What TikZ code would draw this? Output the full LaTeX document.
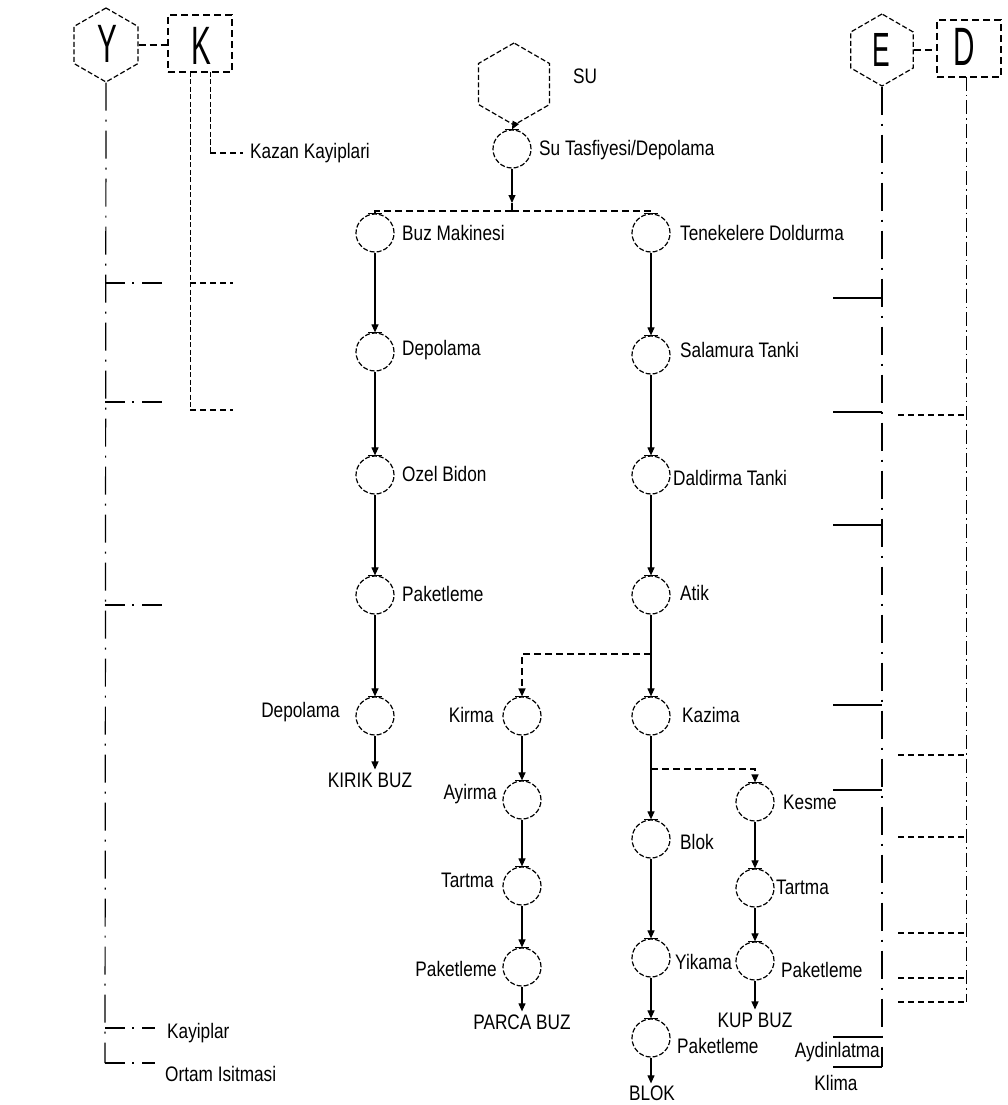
\documentclass[tikz,border=0pt]{standalone}
\usepackage{fontspec}
\setmainfont{Liberation Sans}[FakeStretch=0.82]
\newfontfamily\bigfont{Liberation Sans}[FakeStretch=0.55]
\usetikzlibrary{arrows.meta,shapes.geometric}
\begin{document}
\begin{tikzpicture}[x=1pt,y=-1pt,
  proc/.style={circle,draw,minimum size=38pt,inner sep=0pt,line width=1.2pt,dash pattern=on 5pt off 2pt},
  hexa/.style={regular polygon,regular polygon sides=6,shape border rotate=30,draw,inner sep=0pt,line width=1.2pt,dash pattern=on 5pt off 2.5pt},
  ebox/.style={rectangle,draw,inner sep=0pt,minimum width=64pt,minimum height=57pt,line width=1.2pt,dash pattern=on 7pt off 4pt},
  lbl/.style={font=\fontsize{21}{23}\selectfont,inner sep=0pt},
  bigl/.style={font=\bigfont\fontsize{54}{54}\selectfont,inner sep=0pt},
  flow/.style={line width=1.1pt,-{Triangle[width=7pt,length=8pt]}},
  plain/.style={line width=1.1pt},
  branch/.style={line width=1.3pt,dash pattern=on 7pt off 4pt},
  branchar/.style={branch,-{Triangle[width=7pt,length=8pt]}},
  dashdot/.style={line width=1.2pt,dash pattern=on 28pt off 9pt on 2pt off 9pt},
  legdash/.style={line width=1.2pt,dash pattern=on 20pt off 7pt on 2pt off 8pt on 20pt off 4pt},
  kline/.style={line width=1pt,dash pattern=on 5pt off 2.5pt},
  kdash/.style={line width=1.2pt,dash pattern=on 6pt off 4pt},
  dline/.style={line width=1pt,dash pattern=on 14pt off 4pt on 1.5pt off 4pt},
  eline/.style={line width=1.3pt},
]
\useasboundingbox (0,0) rectangle (1008,1105);

% ---------- left: Y / K ----------
\node[hexa,minimum size=74pt] (yh) at (106,45) {};
\node[bigl] (yl) at (107,44) {Y};
\node[ebox] (kb) at (200,43.5) {};
\node[bigl] (kl) at (201,46) {K};
\draw[branch] (yh.east) -- (yh.east -| kb.west);

\coordinate (ybot) at (105,1063);
\coordinate (ytop) at (105,1028);
\coordinate (yl1) at (155,1063);
\coordinate (yl2) at (155,1028);
\draw[dashdot] (yh.south) -- (ybot);
\draw[legdash] (ytop) -- (yl2);
\draw[legdash] (ybot) -- (yl1);
\node[lbl,anchor=west] (leg1) at (167,1033) {Kayiplar};
\node[lbl,anchor=west] (leg2) at (165,1074) {Ortam Isitmasi};

\foreach \i/\yy in {1/283,2/402,3/605}{
  \coordinate (ya\i) at (105,\yy);
  \coordinate (yb\i) at (163,\yy);
  \draw[legdash] (ya\i) -- (yb\i);
}

\coordinate (k1t) at (190,72);
\coordinate (k1b) at (190,410);
\coordinate (k1e) at (233,410);
\coordinate (k1m) at (190,283);
\coordinate (k1f) at (233,283);
\draw[kline] (k1t) -- (k1b);
\draw[kdash] (k1b) -- (k1e);
\draw[kdash] (k1m) -- (k1f);
\coordinate (k2t) at (210,72);
\coordinate (k2b) at (210,153);
\coordinate (k2e) at (243,153);
\draw[kline] (k2t) -- (k2b);
\draw[kdash] (k2b) -- (k2e);
\node[lbl,anchor=west] (kazl) at (250,153) {Kazan Kayiplari};

% ---------- top: SU ----------
\node[hexa,minimum size=82pt] (su) at (514,84) {};
\node[lbl,anchor=west] (sul) at (573,76) {SU};
\node[proc] (sut) at (512,149) {};
\node[lbl,anchor=west] (sutl) at (539,150) {Su Tasfiyesi/Depolama};
\draw[flow] (su.south) -- (sut.north);
\coordinate (a0) at (512,203);
\coordinate (j0) at (512,211);
\draw[flow] (sut.south) -- (a0);
\draw[plain] (a0) -- (j0);

% ---------- column A ----------
\node[proc] (buz) at (375,233) {};
\node[proc] (dep1) at (375,352) {};
\node[proc] (ozel) at (375,475) {};
\node[proc] (pak1) at (375,595) {};
\node[proc] (dep2) at (375,716) {};
\node[lbl,anchor=west] (buzl) at (402,233) {Buz Makinesi};
\node[lbl,anchor=west] (dep1l) at (402,350) {Depolama};
\node[lbl,anchor=west] (ozell) at (402,474) {Ozel Bidon};
\node[lbl,anchor=west] (pak1l) at (402,594) {Paketleme};
\node[lbl,anchor=east] (dep2l) at (340,712) {Depolama};
\node[lbl] (kirik) at (370,780) {KIRIK BUZ};
\draw[branch] (j0) -| (buz.north);
\draw[flow] (buz) -- (dep1);
\draw[flow] (dep1) -- (ozel);
\draw[flow] (ozel) -- (pak1);
\draw[flow] (pak1) -- (dep2);
\draw[flow,shorten >=3pt] (dep2.south) -- (dep2.south |- kirik.north);

% ---------- column B ----------
\node[proc] (ten) at (651,233) {};
\node[proc] (sal) at (651,355) {};
\node[proc] (dal) at (651,475) {};
\node[proc] (atik) at (651,595) {};
\node[proc] (kaz) at (651,716) {};
\node[proc] (blok) at (651,839) {};
\node[proc] (yik) at (651,958) {};
\node[proc] (pak3) at (651,1038) {};
\node[lbl,anchor=west] (tenl) at (680,233) {Tenekelere Doldurma};
\node[lbl,anchor=west] (sall) at (680,350) {Salamura Tanki};
\node[lbl,anchor=west] (dall) at (673,478) {Daldirma Tanki};
\node[lbl,anchor=west] (atikl) at (680,593) {Atik};
\node[lbl,anchor=west] (kazl2) at (682,715) {Kazima};
\node[lbl,anchor=west] (blokl) at (680,842) {Blok};
\node[lbl,anchor=west] (yikl) at (675,962) {Yikama};
\node[lbl,anchor=west] (pak3l) at (677,1046) {Paketleme};
\node[lbl] (blokout) at (652,1093) {BLOK};
\draw[branch] (j0) -| (ten.north);
\draw[flow] (ten) -- (sal);
\draw[flow] (sal) -- (dal);
\draw[flow] (dal) -- (atik);
\draw[flow] (atik) -- (kaz);
\draw[flow] (kaz) -- (blok);
\draw[flow] (blok) -- (yik);
\draw[flow] (yik) -- (pak3);
\draw[flow,shorten >=2pt] (pak3.south) -- (pak3.south |- blokout.north);
\coordinate (jb) at (651,654);
\coordinate (jc) at (651,769);

% ---------- column C ----------
\node[proc] (kir) at (522,716) {};
\node[proc] (ayi) at (522,800) {};
\node[proc] (tar1) at (522,886) {};
\node[proc] (pak2) at (522,967) {};
\node[lbl,anchor=east] (kirl) at (494,715) {Kirma};
\node[lbl,anchor=east] (ayil) at (497,794) {Ayirma};
\node[lbl,anchor=east] (tar1l) at (494,880) {Tartma};
\node[lbl,anchor=east] (pak2l) at (497,969) {Paketleme};
\node[lbl] (parca) at (522,1022) {PARCA BUZ};
\draw[branchar] (jb) -| (kir.north);
\draw[flow] (kir) -- (ayi);
\draw[flow] (ayi) -- (tar1);
\draw[flow] (tar1) -- (pak2);
\draw[flow,shorten >=3pt] (pak2.south) -- (pak2.south |- parca.north);

% ---------- column D ----------
\node[proc] (kes) at (755,802) {};
\node[proc] (tar2) at (755,888) {};
\node[proc] (pak4) at (755,961) {};
\node[lbl,anchor=west] (kesl) at (783,802) {Kesme};
\node[lbl,anchor=west] (tar2l) at (776,887) {Tartma};
\node[lbl,anchor=west] (pak4l) at (781,970) {Paketleme};
\node[lbl] (kup) at (755,1020) {KUP BUZ};
\draw[branchar] (jc) -| (kes.north);
\draw[flow] (kes) -- (tar2);
\draw[flow] (tar2) -- (pak4);
\draw[flow,shorten >=3pt] (pak4.south) -- (pak4.south |- kup.north);

% bars on process tops
\foreach \n in {sut,buz,dep1,ozel,pak1,dep2,ten,sal,dal,atik,kaz,blok,yik,pak3,kir,ayi,tar1,pak2,kes,tar2,pak4}{
  \draw[plain] ([xshift=-7pt]\n.north) -- ([xshift=7pt]\n.north);
}

% ---------- right: E / D ----------
\node[hexa,minimum size=72pt] (eh) at (882,50) {};
\node[bigl,font=\bigfont\fontsize{48}{48}\selectfont] (el) at (881,50) {E};
\node[ebox] (db) at (969,48.5) {};
\node[bigl] (dl) at (964,47) {D};
\draw[branch] (eh.east) -- (eh.east -| db.west);

\coordinate (ebot) at (882,1067);
\draw[dashdot] (eh.south) -- (ebot);
\foreach \i/\yy in {1/298,2/412,3/525,4/705,5/790,6/1037,7/1067}{
  \coordinate (ea\i) at (833,\yy);
  \coordinate (eb\i) at (882,\yy);
  \draw[eline] (ea\i) -- (eb\i);
}
\node[lbl,anchor=east] (ayd) at (880,1052) {Aydinlatma};
\node[lbl] (klima) at (836,1083) {Klima};

\coordinate (dtop) at (966,77);
\coordinate (dbot) at (966,1002);
\draw[dline] (dtop) -- (dbot);
\foreach \i/\yy in {1/415,2/755,3/837,4/933,5/978,6/1002}{
  \coordinate (da\i) at (898,\yy);
  \coordinate (dd\i) at (966,\yy);
  \draw[kdash] (da\i) -- (dd\i);
}
\end{tikzpicture}
\end{document}
